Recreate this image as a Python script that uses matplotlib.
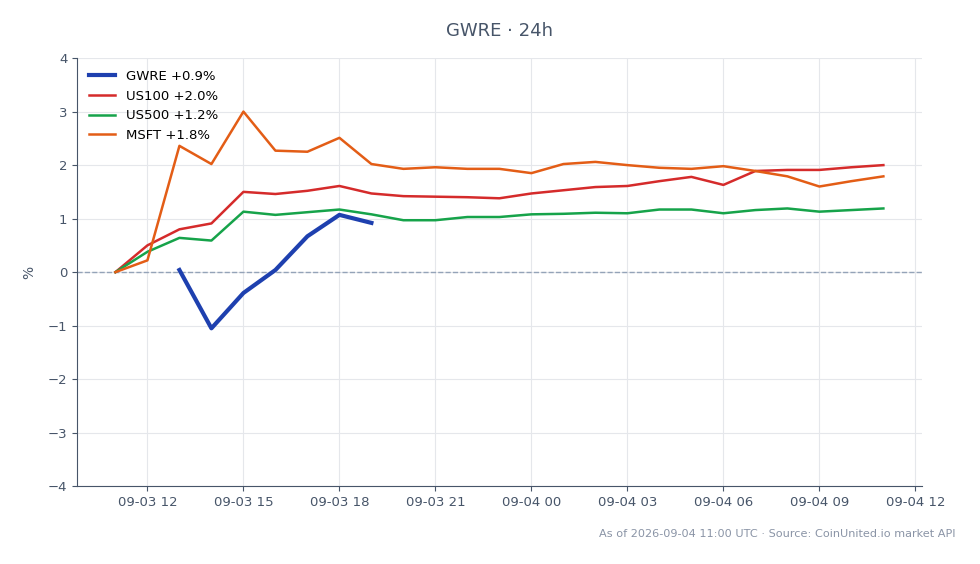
import numpy as np
import pandas as pd
import matplotlib
matplotlib.use('Agg')
import matplotlib.pyplot as plt
import matplotlib.dates as mdates

# 시간축: 09-03 11:00 부터 1시간 간격 25개
times = pd.date_range('2026-09-03 11:00', periods=25, freq='h')

nan = np.nan
gwre = [nan, nan, 0.04, -1.05, -0.39, 0.04, 0.67, 1.07, 0.92,
        nan, nan, nan, nan, nan, nan, nan, nan, nan, nan, nan, nan, nan, nan, nan, nan]
us100 = [0, 0.50, 0.80, 0.91, 1.50, 1.46, 1.52, 1.61, 1.47, 1.42, 1.41, 1.40, 1.38,
         1.47, 1.53, 1.59, 1.61, 1.70, 1.78, 1.63, 1.89, 1.91, 1.91, 1.96, 2.00]
us500 = [0, 0.38, 0.64, 0.59, 1.13, 1.07, 1.12, 1.17, 1.08, 0.97, 0.97, 1.03, 1.03,
         1.08, 1.09, 1.11, 1.10, 1.17, 1.17, 1.10, 1.16, 1.19, 1.13, 1.16, 1.19]
msft = [0, 0.22, 2.36, 2.02, 3.00, 2.27, 2.25, 2.51, 2.02, 1.93, 1.96, 1.93, 1.93,
        1.85, 2.02, 2.06, 2.00, 1.95, 1.93, 1.98, 1.89, 1.79, 1.60, 1.70, 1.79]

labels = ['GWRE +0.9%', 'US100 +2.0%', 'US500 +1.2%', 'MSFT +1.8%']

fig = plt.figure(figsize=(9.8, 5.64), dpi=100)
ax = fig.add_axes([0.0786, 0.138, 0.862, 0.759])

ax.axhline(0, color='#94a3b8', lw=1, ls='--', zorder=1)
ax.plot(times, gwre, color='#1e40af', lw=3, label=labels[0], zorder=5)
ax.plot(times, us100, color='#d52b2b', lw=1.8, label=labels[1])
ax.plot(times, us500, color='#16a34a', lw=1.8, label=labels[2])
ax.plot(times, msft, color='#e35d16', lw=1.8, label=labels[3])

ax.set_ylim(-4, 4)
ax.xaxis.set_major_locator(mdates.HourLocator(byhour=range(0, 24, 3)))
ax.xaxis.set_major_formatter(mdates.DateFormatter('%m-%d %H'))
ax.grid(True, color='#e5e7eb', lw=0.8)
ax.set_axisbelow(True)
for s in ['top', 'right']:
    ax.spines[s].set_visible(False)
for s in ['left', 'bottom']:
    ax.spines[s].set_color('#475569')
ax.tick_params(colors='#475569', labelsize=9.5)
ax.set_ylabel('%', color='#475569', fontsize=10, labelpad=8)

ax.legend(loc='upper left', frameon=False, fontsize=9.5)
ax.set_title('GWRE · 24h', fontsize=13, color='#475569', pad=16)
fig.text(0.975, 0.053, 'As of 2026-09-04 11:00 UTC · Source: CoinUnited.io market API',
         ha='right', va='center', fontsize=8.1, color='#8a94a6')

fig.savefig('out.png', dpi=100)
